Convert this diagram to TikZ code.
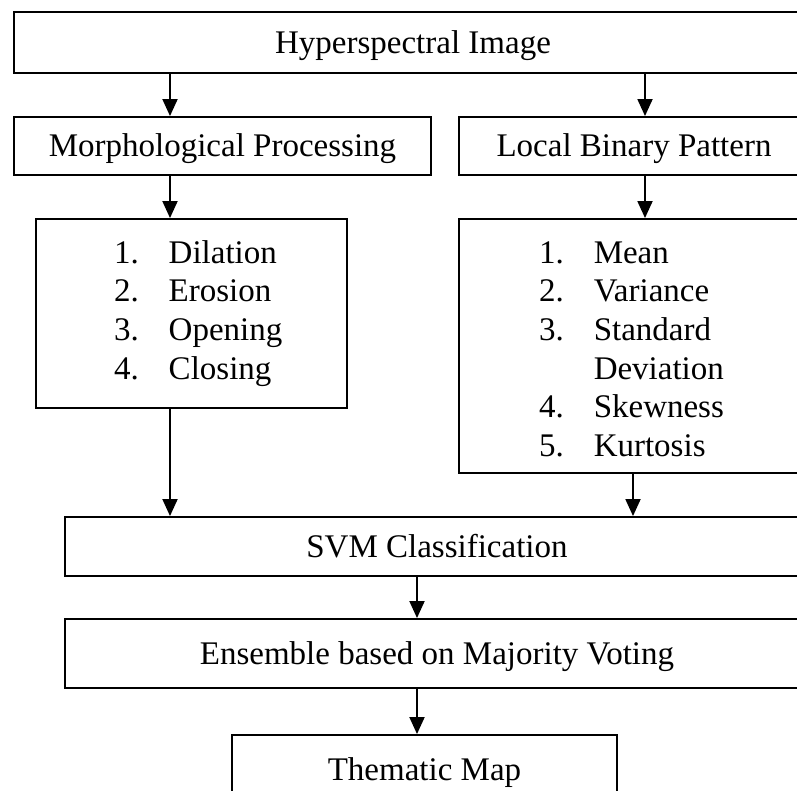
\documentclass[tikz,border=0pt]{standalone}
\usepackage{fontspec}
\setmainfont{Liberation Serif}
\usepackage{tikz}
\usetikzlibrary{arrows.meta, positioning}

\begin{document}
\begin{tikzpicture}[x=1pt, y=-1pt,
    frame/.style={draw, line width=1.9pt, inner sep=0pt, align=center,
                  font=\fontsize{33}{38.6}\selectfont},
    box/.style={frame, text height=25pt, text depth=3pt},
    listbox/.style={frame, align=left},
    arr/.style={-{Triangle[length=17pt, width=15pt]}, line width=1.9pt}]

% frame of the page (boxes on the right run off the edge)
\clip (0,0) rectangle (797,791);

% Top row
\node[box, minimum width=798pt, minimum height=61pt] (hsi) at (413,42.5) {Hyperspectral Image};

% Two feature branches
\node[box, minimum width=417pt, minimum height=58pt] (morph) at (222.5,146) {Morphological Processing};
\node[box, minimum width=350pt, minimum height=58pt] (lbp) at (634,146) {Local Binary Pattern};

% Feature lists
\node[listbox, text width=155pt, inner xsep=78pt, minimum height=189pt] (ops) at (191.5,313.5) {%
  \begin{tabular}{@{}l@{\hspace{30pt}}l@{}}
  1. & Dilation\\
  2. & Erosion\\
  3. & Opening\\
  4. & Closing
  \end{tabular}};
\node[listbox, text width=190pt, inner xsep=80pt, minimum height=254pt] (stats) at (634,346) {%
  \begin{tabular}{@{}l@{\hspace{30pt}}l@{}}
  \rule{0pt}{39pt}1. & Mean\\
  2. & Variance\\
  3. & Standard\\
     & Deviation\\
  4. & Skewness\\
  5. & Kurtosis
  \end{tabular}};

% Classification and fusion
\node[box, minimum width=744pt, minimum height=59pt] (svm) at (437,546.5) {SVM Classification};
\node[box, minimum width=744pt, minimum height=69pt] (vote) at (437,653.5) {Ensemble based on Majority Voting};
\node[box, minimum width=385pt, minimum height=68pt] (map) at (424.5,769) {Thematic Map};

% Arrows
\draw[arr] ([xshift=-52.5]morph.north |- hsi.south) -- ([xshift=-52.5]morph.north);
\draw[arr] ([xshift=11]lbp.north |- hsi.south) -- ([xshift=11]lbp.north);
\draw[arr] ([xshift=-21.5]ops.north |- morph.south) -- ([xshift=-21.5]ops.north);
\draw[arr] ([xshift=11]stats.north |- lbp.south) -- ([xshift=11]stats.north);
\draw[arr] ([xshift=-21.5]ops.south) -- ([xshift=-21.5]ops.south |- svm.north);
\draw[arr] ([xshift=-1]stats.south) -- ([xshift=-1]stats.south |- svm.north);
\draw[arr] ([xshift=-20]svm.south) -- ([xshift=-20]svm.south |- vote.north);
\draw[arr] ([xshift=-20]vote.south) -- ([xshift=-20]vote.south |- map.north);

\end{tikzpicture}
\end{document}
